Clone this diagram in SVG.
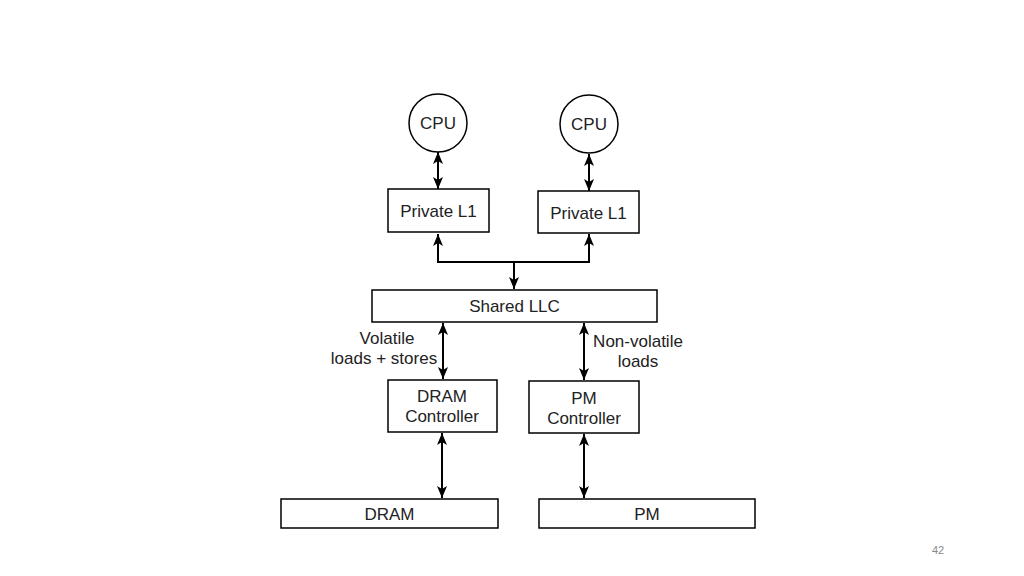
<svg xmlns="http://www.w3.org/2000/svg" width="1024" height="576" viewBox="0 0 1024 576">
<defs>
<marker id="ah" viewBox="0 0 12 10" refX="12" refY="5" markerWidth="12" markerHeight="10" markerUnits="userSpaceOnUse" orient="auto-start-reverse">
<path d="M0,0 L12,5 L0,10 L3,5 Z" fill="#000"/>
</marker>
<style>
.box{fill:#fff;stroke:#000;stroke-width:1.5}
.t{font-family:"Liberation Sans",Arial,sans-serif;font-size:17px;fill:#222;text-anchor:middle}
.c{fill:none;stroke:#000;stroke-width:2}
</style>
</defs>
<rect width="1024" height="576" fill="#fff"/>
<g id="connectors">
<line class="c" x1="438" y1="152" x2="438" y2="189" marker-start="url(#ah)" marker-end="url(#ah)"/>
<line class="c" x1="589" y1="154" x2="589" y2="191" marker-start="url(#ah)" marker-end="url(#ah)"/>
<path class="c" d="M438,234 V262 H589 V234" marker-start="url(#ah)" marker-end="url(#ah)"/>
<line class="c" x1="514" y1="262" x2="514" y2="289" marker-end="url(#ah)"/>
<line class="c" x1="443" y1="323" x2="443" y2="379" marker-start="url(#ah)" marker-end="url(#ah)"/>
<line class="c" x1="584" y1="323" x2="584" y2="380" marker-start="url(#ah)" marker-end="url(#ah)"/>
<line class="c" x1="442" y1="433" x2="442" y2="498" marker-start="url(#ah)" marker-end="url(#ah)"/>
<line class="c" x1="584" y1="434" x2="584" y2="498" marker-start="url(#ah)" marker-end="url(#ah)"/>
<text class="t" x="387" y="344">Volatile</text>
<text class="t" x="384" y="364">loads + stores</text>
<text class="t" x="638" y="347">Non-volatile</text>
<text class="t" x="638" y="367">loads</text>
</g>
<g id="cpu1"><circle class="box" cx="438" cy="123" r="29"/><text class="t" x="438" y="129">CPU</text></g>
<g id="cpu2"><circle class="box" cx="589" cy="124" r="29"/><text class="t" x="589" y="130">CPU</text></g>
<g id="l1a"><rect class="box" x="388" y="189" width="101" height="43"/><text class="t" x="438.5" y="217">Private L1</text></g>
<g id="l1b"><rect class="box" x="538" y="191" width="101" height="42"/><text class="t" x="588.5" y="219">Private L1</text></g>
<g id="llc"><rect class="box" x="372" y="290" width="285" height="32"/><text class="t" x="514.5" y="312">Shared LLC</text></g>
<g id="dramctrl"><rect class="box" x="388" y="380" width="109" height="52"/><text class="t" x="442" y="402">DRAM</text><text class="t" x="442" y="422">Controller</text></g>
<g id="pmctrl"><rect class="box" x="529" y="381" width="110" height="52"/><text class="t" x="584" y="404">PM</text><text class="t" x="584" y="424">Controller</text></g>
<g id="dram"><rect class="box" x="281" y="499" width="217" height="29"/><text class="t" x="389.5" y="520">DRAM</text></g>
<g id="pm"><rect class="box" x="539" y="499" width="216" height="29"/><text class="t" x="647" y="520">PM</text></g>
<text x="938" y="554" style="font-family:'Liberation Sans',Arial,sans-serif;font-size:11px;fill:#888;text-anchor:middle">42</text>
</svg>
